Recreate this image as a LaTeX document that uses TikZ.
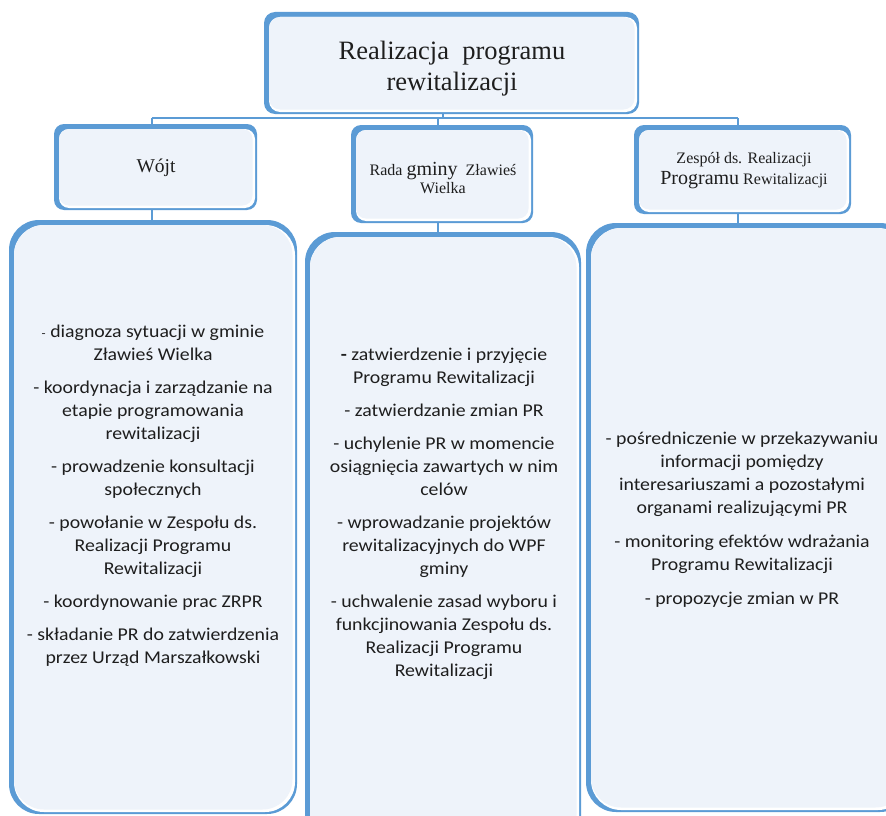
\documentclass[tikz,border=0pt]{standalone}
\usepackage{fontspec}
\setmainfont{Liberation Serif}
\newfontfamily\bodyfont[FakeStretch=1.1]{Carlito}
\usetikzlibrary{fit}
\definecolor{bord}{HTML}{5B9BD5}
\definecolor{boxfill}{HTML}{EEF3FA}
\definecolor{ink}{HTML}{1E1E1E}
\newcommand\fancybox[6]{%
  \fill[bord, rounded corners=#6pt] (#2,#3) rectangle (#4,#5);
  \fill[white, rounded corners=#6pt] (#2+5,#3+5) rectangle (#4-2,#5-2);
  \fill[boxfill, rounded corners=#6pt] (#2+5,#3+5) rectangle (#4-4.5,#5-4.5);
  \node[fit={(#2,#3) (#4,#5)}, inner sep=0pt] (#1) {};
}
\tikzset{
  conn/.style={draw=bord, line width=1.6pt},
  bodytxt/.style={text=ink, align=center, inner sep=0pt, font=\bodyfont\fontsize{18}{23}\selectfont},
  headtxt/.style={text=ink, align=center, inner sep=0pt},
}
\begin{document}
\begin{tikzpicture}[x=1pt, y=-1pt]
\useasboundingbox (0,0) rectangle (886,816);
\begin{scope}
\clip (0,0) rectangle (886,816);
% connectors (drawn first, boxes cover their ends)
\coordinate (busL) at (152,118);
\coordinate (busT) at (443,118);
\coordinate (busM) at (438,118);
\coordinate (busR) at (738,118);
\coordinate (topS) at (443,112);
\coordinate (wojS) at (152,208);
\coordinate (radS) at (438,221);
\coordinate (zesS) at (738,212);
\draw[conn] (topS) -- (busT);
\draw[conn] (busL) -- (busR);
\draw[conn] (busL) -- (152,127);
\draw[conn] (busM) -- (438,127);
\draw[conn] (busR) -- (738,127);
\draw[conn] (wojS) -- (152,224);
\draw[conn] (radS) -- (438,236);
\draw[conn] (zesS) -- (738,226);

% boxes
\fancybox{top}{264}{12}{639}{114}{11}
\fancybox{wojt}{54}{124}{257}{210}{10}
\fancybox{rada}{351}{125}{533}{223}{10}
\fancybox{zesp}{634}{125}{851}{214}{10}
\fancybox{bigL}{9}{220}{297}{814}{30}
\fancybox{bigM}{305}{232}{581}{850}{30}
\fancybox{bigR}{586}{223}{910}{812}{30}

% texts
\node[headtxt, font=\fontsize{26.5}{31}\selectfont] (ttop) at (452,69) {Realizacja\ \ programu\\ rewitalizacji};
\node[headtxt, font=\fontsize{19.5}{22}\selectfont] (twojt) at (156,168) {Wójt};
\node[headtxt, font=\fontsize{16}{18}\selectfont] (trada) at (443,178) {Rada {\fontsize{20}{18}\selectfont gminy}\ \ Zławieś\\ Wielka};
\node[headtxt, font=\fontsize{16}{21}\selectfont] (tzesp) at (744,171) {Zespół ds. Realizacji\\ {\fontsize{20}{21}\selectfont Programu} Rewitalizacji};

\node[bodytxt] (tL) at (153,496) {{\fontsize{12}{12}\selectfont -} diagnoza sytuacji w gminie\\ Zławieś Wielka\\[10pt]
 - koordynacja i zarządzanie na\\ etapie programowania\\ rewitalizacji\\[10pt]
 - prowadzenie konsultacji\\ społecznych\\[10pt]
 - powołanie w Zespołu ds.\\ Realizacji Programu\\ Rewitalizacji\\[10pt]
 - koordynowanie prac ZRPR\\[10pt]
 - składanie PR do zatwierdzenia\\ przez Urząd Marszałkowski};
\node[bodytxt] (tM) at (444,514) {\textbf{-} zatwierdzenie i przyjęcie\\ Programu Rewitalizacji\\[10pt]
 - zatwierdzanie zmian PR\\[10pt]
 - uchylenie PR w momencie\\ osiągnięcia zawartych w nim\\ celów\\[10pt]
 - wprowadzanie projektów\\ rewitalizacyjnych do WPF\\ gminy\\[10pt]
 - uchwalenie zasad wyboru i\\ funkcjinowania Zespołu ds.\\ Realizacji Programu\\ Rewitalizacji};
\node[bodytxt] (tR) at (742,520) { - pośredniczenie w przekazywaniu\\ informacji pomiędzy\\ interesariuszami a pozostałymi\\ organami realizującymi PR\\[11pt]
 - monitoring efektów wdrażania\\ Programu Rewitalizacji\\[11pt]
 - propozycje zmian w PR};
\end{scope}
\end{tikzpicture}
\end{document}
